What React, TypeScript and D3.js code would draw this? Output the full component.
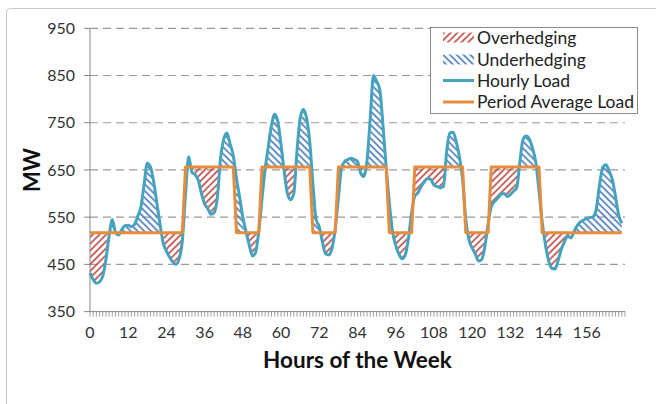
import React from "react";
import * as d3 from "d3";

// ---------- DATA ----------
const hourlyLoad: number[] = [
  // 0-23
  432, 418, 410, 413, 425, 460, 510, 545, 518, 512, 524, 532,
  533, 530, 535, 552, 572, 620, 664, 656, 625, 580, 535, 495,
  // 24-47
  478, 465, 455, 450, 462, 500, 600, 678, 645, 640, 628, 600,
  578, 568, 556, 560, 592, 675, 715, 728, 705, 680, 632, 592,
  // 48-71
  550, 519, 491, 468, 475, 520, 588, 652, 700, 745, 768, 752,
  703, 646, 600, 587, 600, 690, 760, 778, 760, 710, 620, 545,
  // 72-95
  530, 497, 472, 470, 484, 525, 590, 655, 668, 672, 675, 672,
  668, 643, 636, 670, 760, 850, 838, 820, 745, 655, 580, 520,
  // 96-119
  490, 472, 462, 470, 505, 560, 595, 602, 615, 625, 632, 630,
  618, 615, 612, 615, 690, 728, 730, 710, 678, 630, 545, 502,
  // 120-143
  485, 472, 457, 460, 488, 535, 572, 583, 590, 598, 600, 594,
  598, 605, 612, 668, 715, 722, 715, 695, 666, 605, 540, 492,
  // 144-167
  458, 442, 440, 458, 482, 498, 510, 506, 520, 532, 540, 544,
  547, 549, 551, 568, 618, 655, 661, 648, 630, 595, 555, 537,
];

// Period average load: each period starts at the given hour
const periodStarts: number[] = [0, 30, 46, 54, 70, 78, 94, 102, 118, 126, 142];
const periodLevels: number[] = [517, 656, 517, 656, 517, 656, 517, 656, 517, 656, 517];

const yTicks: number[] = [350, 450, 550, 650, 750, 850, 950];
const xTickLabels: number[] = [0, 12, 24, 36, 48, 60, 72, 84, 96, 108, 120, 132, 144, 156];

const legendItems = ["Overhedging", "Underhedging", "Hourly Load", "Period Average Load"];

// ---------- STYLE ----------
const W = 656;
const H = 404;
const plot = { left: 90, right: 625, top: 28.3, bottom: 311.6 };
const loadColor = "#46a3bd";
const avgColor = "#e68c3c";
const overColor = "#c0504d";
const underColor = "#4f81bd";
const font = "Lato, 'Open Sans', sans-serif";

type Pt = { h: number; load: number; avg: number };

export default function App() {
  const x = d3.scaleLinear().domain([0, 168]).range([plot.left, plot.right]);
  const y = d3.scaleLinear().domain([350, 950]).range([plot.bottom, plot.top]);

  const avgAt = (h: number) => {
    let lvl = periodLevels[0];
    for (let i = 0; i < periodStarts.length; i++) if (h >= periodStarts[i]) lvl = periodLevels[i];
    return lvl;
  };
  const base: Pt[] = hourlyLoad.map((v, h) => ({ h, load: v, avg: avgAt(h) }));

  // insert exact crossing points
  const pts: Pt[] = [];
  for (let i = 0; i < base.length; i++) {
    const a = base[i];
    pts.push(a);
    if (i < base.length - 1) {
      const b = base[i + 1];
      const da = a.load - a.avg;
      const db = b.load - b.avg;
      if ((da > 0 && db < 0) || (da < 0 && db > 0)) {
        const t = da / (da - db);
        const v = a.load + (b.load - a.load) * t;
        pts.push({ h: a.h + t, load: v, avg: v });
      }
    }
  }

  const underArea = d3
    .area<Pt>()
    .x((d) => x(d.h))
    .y0((d) => y(d.avg))
    .y1((d) => y(Math.max(d.load, d.avg)));
  const overArea = d3
    .area<Pt>()
    .x((d) => x(d.h))
    .y0((d) => y(d.avg))
    .y1((d) => y(Math.min(d.load, d.avg)));

  const loadLine = d3
    .line<Pt>()
    .x((d) => x(d.h))
    .y((d) => y(d.load))
    .curve(d3.curveMonotoneX);
  const avgLine = d3
    .line<Pt>()
    .x((d) => x(d.h))
    .y((d) => y(d.avg));

  const minorTicks = d3.range(0, 169);

  const lg = { x: 430.5, y: 27.5, w: 207, h: 86 };
  const rowY = [38, 59.5, 80.5, 102];

  return (
    <svg
      width={W}
      height={H}
      style={{ position: "absolute", left: 0, top: 0, background: "#fff" }}
      fontFamily={font}
    >
      <defs>
        <pattern id="overPat" width="4.8" height="4.8" patternUnits="userSpaceOnUse" patternTransform="rotate(45)">
          <line x1="1" y1="0" x2="1" y2="4.8" stroke={overColor} strokeWidth="1.7" />
        </pattern>
        <pattern id="underPat" width="4.8" height="4.8" patternUnits="userSpaceOnUse" patternTransform="rotate(-45)">
          <line x1="1" y1="0" x2="1" y2="4.8" stroke={underColor} strokeWidth="1.7" />
        </pattern>
      </defs>

      {/* chart border */}
      <rect x={6.5} y={8.5} width={W + 20} height={H + 20} rx={4} fill="#fff" stroke="#c6c6c6" />

      {/* gridlines */}
      {yTicks.slice(1).map((t) => (
        <line
          key={t}
          x1={plot.left}
          x2={plot.right}
          y1={y(t)}
          y2={y(t)}
          stroke="#9a9a9a"
          strokeWidth={1.2}
          strokeDasharray="8,5"
        />
      ))}

      {/* hatched areas */}
      <path d={overArea(pts) || ""} fill="url(#overPat)" />
      <path d={underArea(pts) || ""} fill="url(#underPat)" />

      {/* lines */}
      <path d={loadLine(base) || ""} fill="none" stroke={loadColor} strokeWidth={3} strokeLinejoin="round" />
      <path d={avgLine(base) || ""} fill="none" stroke={avgColor} strokeWidth={3} strokeLinejoin="round" />

      {/* axes */}
      <line x1={plot.left} x2={plot.left} y1={plot.top} y2={plot.bottom} stroke="#868686" />
      {yTicks.map((t) => (
        <g key={t}>
          <line x1={plot.left - 6} x2={plot.left} y1={y(t)} y2={y(t)} stroke="#868686" />
          <text x={75} y={y(t)} dy="0.35em" textAnchor="end" fontSize={16} fill="#333">
            {t}
          </text>
        </g>
      ))}
      <line x1={plot.left} x2={plot.right} y1={plot.bottom} y2={plot.bottom} stroke="#868686" />
      {minorTicks.map((h) => (
        <line key={h} x1={x(h)} x2={x(h)} y1={plot.bottom} y2={plot.bottom + 5} stroke="#868686" strokeWidth={0.8} />
      ))}
      {xTickLabels.map((h) => (
        <text key={h} x={x(h)} y={338} textAnchor="middle" fontSize={16} fill="#333">
          {h}
        </text>
      ))}

      {/* axis titles */}
      <text x={(plot.left + plot.right) / 2} y={368} textAnchor="middle" fontSize={22.5} fontWeight="bold" fill="#111">
        Hours of the Week
      </text>
      <text
        transform={`translate(40,${170}) rotate(-90)`}
        textAnchor="middle"
        fontSize={22}
        fontWeight="bold"
        fill="#111"
      >
        MW
      </text>

      {/* legend */}
      <rect x={lg.x} y={lg.y} width={lg.w} height={lg.h} fill="#fff" stroke="#8c8c8c" />
      <rect x={443} y={rowY[0] - 5.5} width={31} height={10} fill="url(#overPat)" />
      <rect x={443} y={rowY[1] - 5} width={31} height={10} fill="url(#underPat)" />
      <line x1={443} x2={474} y1={rowY[2]} y2={rowY[2]} stroke={loadColor} strokeWidth={3} />
      <line x1={443} x2={474} y1={rowY[3]} y2={rowY[3]} stroke={avgColor} strokeWidth={3} />
      {legendItems.map((t, i) => (
        <text key={t} x={477} y={rowY[i]} dy="0.36em" fontSize={17.5} fill="#222">
          {t}
        </text>
      ))}
    </svg>
  );
}
